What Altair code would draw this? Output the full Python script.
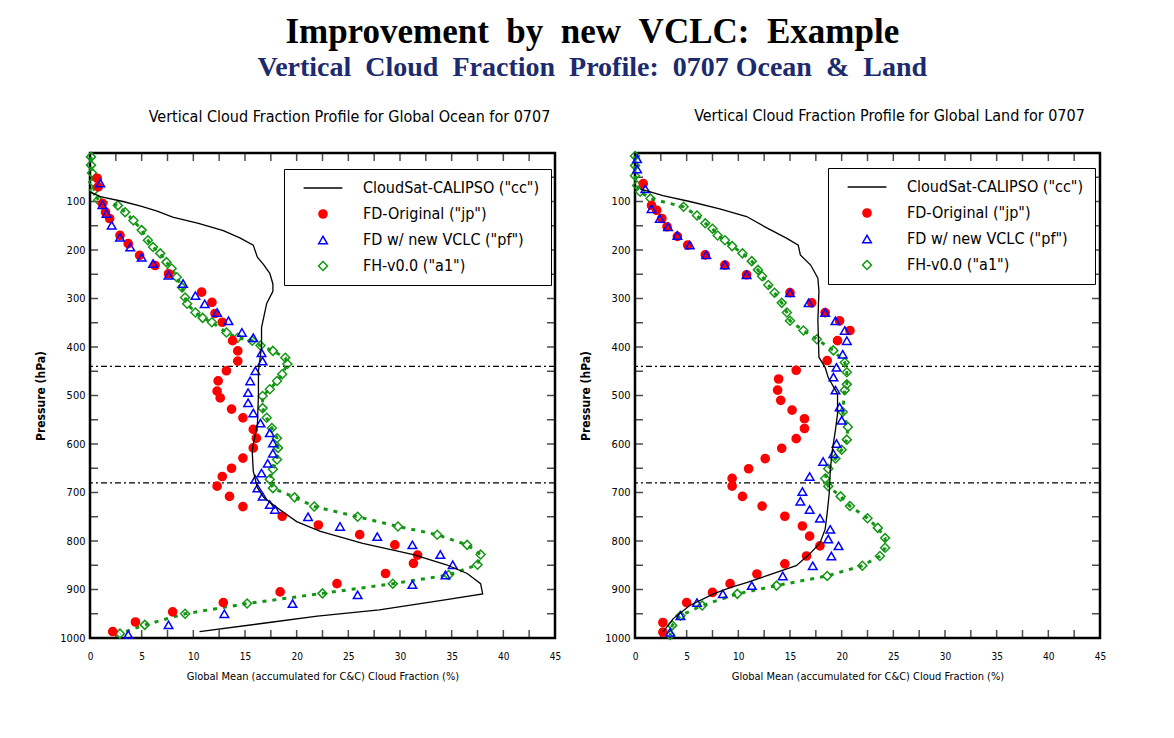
import altair as alt
import pandas as pd

# ---------------- data ----------------
SERIES = ['CloudSat-CALIPSO ("cc")', 'FD-Original ("jp")', 'FD w/ new VCLC ("pf")', 'FH-v0.0 ("a1")']

# Ocean panel
ocean_cc_p = [80, 90, 100, 110, 120, 132, 145, 160, 175, 190, 215, 230, 248, 270, 285, 310, 340, 360, 400, 450, 500,
              560, 600, 615, 656, 690, 710, 725, 745, 760, 780, 805, 828, 849, 867, 888, 909, 921, 942, 955, 967, 987]
ocean_cc_v = [0, 1, 3.2, 5, 6.5, 8, 10.5, 12.9, 14.5, 15.8, 16.2, 16.8, 17.4, 17.7, 17.7, 17.1, 16.8, 16.6, 16.6, 16.3, 16.3,
              16.2, 15.8, 15.7, 15.8, 16.2, 16.8, 17.7, 19.0, 20.0, 22.3, 26.4, 31.3, 34.5, 36.5, 37.8, 38.0, 34.5, 28.0, 22.0, 17.7, 10.6]

ocean_jp_p = [52, 70, 104, 122, 135, 170, 187, 211, 232, 249, 287, 308, 331, 349, 387, 408, 429, 449, 470, 491, 505, 528,
              546, 570, 588, 608, 629, 650, 667, 687, 708, 729, 749, 767, 787, 808, 829, 846, 867, 888, 905, 927, 946, 967, 987]
ocean_jp_v = [0.7, 0.8, 1.2, 1.5, 1.9, 2.9, 3.7, 4.8, 6.3, 7.6, 10.8, 11.8, 12.1, 12.8, 13.8, 14.3, 14.3, 13.2, 12.4, 12.3, 12.6, 13.7,
              14.8, 15.8, 16.1, 15.8, 14.8, 13.7, 12.8, 12.3, 13.5, 14.8, 18.6, 22.1, 26.1, 29.5, 31.7, 31.3, 28.6, 23.9, 18.4, 12.9, 8.0, 4.4, 2.2]

ocean_pf_p = [62, 107, 125, 149, 174, 194, 215, 228, 252, 269, 294, 311, 329, 346, 370, 381, 412, 429, 449, 470, 494, 515, 536,
              557, 577, 598, 619, 640, 660, 673, 691, 708, 725, 735, 750, 770, 791, 808, 828, 849, 870, 890, 911, 929, 950, 973, 993]
ocean_pf_v = [1.0, 1.2, 1.6, 2.1, 2.9, 3.9, 5.0, 6.1, 7.6, 9.0, 10.2, 11.1, 12.3, 13.4, 14.7, 15.8, 16.6, 16.7, 16.0, 15.5, 15.3, 15.3, 15.8,
              16.5, 17.4, 17.7, 17.7, 17.2, 16.6, 16.0, 16.2, 16.7, 17.4, 17.9, 21.1, 24.2, 27.8, 31.2, 33.9, 35.1, 34.4, 31.2, 25.9, 19.6, 13.0, 7.6, 3.7]

ocean_a1_p = [8, 25, 41, 60, 77, 97, 108, 122, 139, 159, 180, 194, 207, 225, 238, 256, 277, 298, 311, 329, 340, 349, 370, 381, 387,
              397, 408, 422, 435, 456, 470, 487, 501, 526, 546, 567, 588, 608, 632, 652, 673, 691, 710, 729, 750, 770, 787, 808, 828,
              849, 870, 888, 908, 929, 950, 973, 991]
ocean_a1_v = [0.1, 0.1, 0.2, 0.3, 0.4, 0.8, 2.7, 3.4, 4.2, 5.0, 5.6, 6.1, 6.8, 7.4, 7.9, 8.4, 8.9, 9.2, 9.4, 10.2, 10.9, 11.8, 13.2, 14.3, 15.7,
              16.5, 17.7, 18.9, 19.1, 18.6, 18.1, 17.4, 16.7, 16.7, 17.1, 17.6, 18.1, 18.2, 18.1, 17.7, 17.4, 17.7, 19.8, 21.7, 25.9, 29.8, 33.6, 36.5, 37.8,
              37.5, 34.7, 29.3, 22.5, 15.2, 9.2, 5.3, 2.9]

# Land panel
land_cc_p = [74, 88, 100, 115, 131, 155, 176, 190, 210, 231, 258, 285, 346, 421, 442, 463, 497, 538, 571, 612, 653, 701, 742,
             776, 804, 827, 851, 872, 886, 896, 909, 933, 960, 988]
land_cc_v = [0.5, 2.7, 5.3, 8.2, 10.8, 12.8, 14.7, 15.8, 16.0, 17.0, 17.7, 17.8, 17.7, 17.8, 18.4, 18.7, 19.6, 19.6, 19.4, 19.1, 18.9, 18.8, 18.6,
             18.4, 17.9, 16.9, 15.6, 12.7, 10.8, 9.2, 7.6, 5.3, 3.7, 2.7]

land_jp_p = [63, 108, 118, 135, 152, 172, 190, 210, 231, 251, 288, 309, 329, 346, 366, 387, 428, 448, 466, 489, 510, 530, 548,
             568, 589, 609, 630, 651, 671, 687, 708, 728, 749, 769, 790, 810, 831, 847, 868, 888, 906, 927, 968, 988]
land_jp_v = [0.8, 1.6, 2.1, 2.6, 3.1, 4.1, 5.1, 6.8, 8.7, 10.8, 15.0, 17.1, 18.4, 19.8, 20.8, 19.6, 18.6, 15.6, 13.9, 13.8, 14.1, 15.2, 16.4,
             16.4, 15.6, 14.2, 12.6, 11.0, 9.4, 9.4, 10.4, 12.3, 14.5, 16.2, 16.9, 17.9, 16.6, 14.5, 11.8, 9.2, 7.5, 5.0, 2.7, 2.7]

land_pf_p = [12, 33, 74, 115, 135, 152, 170, 190, 210, 231, 251, 288, 309, 329, 346, 366, 387, 415, 442, 462, 489, 524, 551,
             599, 620, 636, 667, 698, 718, 735, 753, 776, 796, 810, 831, 851, 872, 892, 909, 927, 954, 988]
land_pf_v = [0.2, 0.2, 1.0, 1.6, 2.4, 3.2, 4.1, 5.3, 6.9, 8.7, 10.8, 15.0, 16.8, 18.4, 19.4, 20.3, 20.5, 20.1, 19.5, 19.2, 19.4, 19.8, 20.0,
             19.5, 19.2, 18.2, 16.9, 16.2, 16.0, 16.9, 17.9, 18.9, 18.7, 19.7, 19.0, 17.2, 14.3, 11.3, 8.5, 6.0, 4.4, 3.4]

land_a1_p = [6, 26, 47, 67, 80, 94, 111, 129, 145, 156, 170, 180, 192, 207, 223, 241, 254, 272, 288, 309, 329, 346, 366, 384,
             407, 432, 452, 477, 489, 534, 565, 591, 612, 630, 651, 671, 687, 708, 728, 753, 773, 794, 814, 831, 851, 872, 892,
             909, 933, 954, 974, 994]
land_a1_v = [0.0, 0.0, 0.0, 0.2, 0.5, 1.5, 4.7, 6.0, 6.8, 7.5, 8.0, 8.7, 9.4, 10.4, 11.3, 11.9, 12.3, 12.9, 13.5, 14.2, 14.7, 15.0, 16.3, 17.6,
             19.2, 20.3, 20.5, 20.5, 20.3, 20.1, 20.6, 20.5, 20.0, 19.4, 18.7, 18.4, 18.7, 19.9, 20.8, 22.5, 23.5, 24.2, 24.2, 23.7, 22.0, 18.6, 13.7,
             9.9, 6.5, 4.4, 3.6, 3.4]

# reference levels (dotted horizontal lines), tick labels and tick positions
level_lines = [440, 680]
x_labels = [0, 5, 10, 15, 20, 25, 30, 35, 40, 45]
y_labels = [100, 200, 300, 400, 500, 600, 700, 800, 900, 1000]
x_ticks = [2.5, 5, 7.5, 10, 12.5, 15, 17.5, 20, 22.5, 25, 27.5, 30, 32.5, 35, 37.5, 40, 42.5]
y_ticks = [50, 100, 150, 200, 250, 300, 350, 400, 450, 500, 550, 600, 650, 700, 750, 800, 850, 900, 950]

# ---------------- styling ----------------
RED, BLUE, GREEN = "#ff0000", "#0000ff", "#149614"
NARROW = "Liberation Sans Narrow, Arial Narrow, DejaVu Sans Condensed, Liberation Sans, sans-serif"
SERIF = "Liberation Serif, Times New Roman, serif"
W, H = 465, 485
NB = "\u00a0"


def panel(cc_p, cc_v, jp_p, jp_v, pf_p, pf_v, a1_p, a1_v, title, lx, ly, tdx):
    xenc = alt.X("v:Q", scale=alt.Scale(domain=[0, 45], nice=False, zero=False),
                 axis=alt.Axis(values=x_labels, title="Global Mean (accumulated for C&C) Cloud Fraction (%)",
                               ticks=False, domain=False, grid=False, labelFlush=False, labelOverlap=False,
                               labelFont=NARROW, labelFontSize=10, labelPadding=13, labelColor="black",
                               titleFont=NARROW, titleFontSize=11, titleFontWeight="normal", titlePadding=9,
                               titleColor="black", format="d"))
    yenc = alt.Y("p:Q", scale=alt.Scale(domain=[0, 1000], reverse=True, nice=False, zero=False),
                 axis=alt.Axis(values=y_labels, title="Pressure (hPa)", ticks=False, domain=False, grid=False,
                               labelFlush=False, labelOverlap=False, labelFont=NARROW, labelFontSize=11,
                               labelPadding=5, labelColor="black", titleFont=NARROW, titleFontSize=12,
                               titleFontWeight="bold", titlePadding=12, titleColor="black", format="d"))

    cc = pd.DataFrame({"p": cc_p, "v": cc_v})
    a1 = pd.DataFrame({"p": a1_p, "v": a1_v})
    pts = pd.concat([
        pd.DataFrame({"p": a1_p, "v": a1_v, "s": SERIES[3]}),
        pd.DataFrame({"p": jp_p, "v": jp_v, "s": SERIES[1]}),
        pd.DataFrame({"p": pf_p, "v": pf_v, "s": SERIES[2]}),
    ], ignore_index=True)

    leg = alt.Legend(title=None, orient="none", legendX=lx, legendY=ly, padding=11,
                     strokeColor="black", fillColor="white", labelFont=NARROW, labelFontSize=16,
                     labelColor="black", labelLimit=400, rowPadding=10, symbolOffset=20, labelOffset=32,
                     symbolStrokeWidth=1.5)

    xt = pd.DataFrame({"v": x_ticks})
    yt = pd.DataFrame({"p": y_ticks})
    ticks = [
        alt.Chart(xt).mark_tick(color="black", thickness=1.5, size=8).encode(x=xenc, y=alt.value(H - 4)),
        alt.Chart(xt).mark_tick(color="black", thickness=1.5, size=8).encode(x=xenc, y=alt.value(4)),
        alt.Chart(yt).mark_tick(color="black", thickness=1.5, size=8).encode(y=yenc, x=alt.value(4)),
        alt.Chart(yt).mark_tick(color="black", thickness=1.5, size=8).encode(y=yenc, x=alt.value(W - 4)),
    ]
    rules = alt.Chart(pd.DataFrame({"p": level_lines})).mark_rule(
        color="black", strokeWidth=1.2, strokeDash=[6, 3, 2, 3]).encode(y=yenc)
    a1_line = alt.Chart(a1).mark_line(color=GREEN, strokeWidth=3, strokeDash=[4, 6]).encode(
        x=xenc, y=yenc, order=alt.Order("p:Q"))
    points = alt.Chart(pts).mark_point(opacity=1, strokeWidth=1.5).encode(
        x=xenc, y=yenc,
        stroke=alt.Stroke("s:N", scale=alt.Scale(domain=SERIES, range=["black", RED, BLUE, GREEN]), legend=leg),
        fill=alt.Fill("s:N", scale=alt.Scale(domain=SERIES, range=["transparent", RED, "transparent", "transparent"]), legend=leg),
        shape=alt.Shape("s:N", scale=alt.Scale(domain=SERIES, range=["M-5,0H5", "circle", "triangle-up", "diamond"]), legend=leg),
        size=alt.Size("s:N", scale=alt.Scale(domain=SERIES, range=[60, 80, 110, 160]), legend=leg),
    )
    cc_line = alt.Chart(cc).mark_line(color="black", strokeWidth=1.3).encode(
        x=xenc, y=yenc, order=alt.Order("p:Q"))

    return alt.layer(*ticks, rules, a1_line, points, cc_line).properties(
        width=W, height=H,
        title=alt.TitleParams(title, font=NARROW, fontSize=16, fontWeight="normal", color="black",
                              anchor="middle", offset=24, dx=tdx),
    )


left = panel(ocean_cc_p, ocean_cc_v, ocean_jp_p, ocean_jp_v, ocean_pf_p, ocean_pf_v, ocean_a1_p, ocean_a1_v,
             "Vertical Cloud Fraction Profile for Global Ocean for 0707", 194, 16, 27)
right = panel(land_cc_p, land_cc_v, land_jp_p, land_jp_v, land_pf_p, land_pf_v, land_a1_p, land_a1_v,
              "Vertical Cloud Fraction Profile for Global Land for 0707", 193, 15, 22)

chart = alt.hconcat(left, right, spacing=16).resolve_scale(
    stroke="independent", fill="independent", shape="independent", size="independent"
).resolve_legend(
    stroke="independent", fill="independent", shape="independent", size="independent"
).properties(
    title=alt.TitleParams(
        "Improvement" + NB * 2 + "by" + NB * 2 + "new" + NB * 2 + "VCLC:" + NB * 2 + "Example",
        subtitle="Vertical" + NB * 2 + "Cloud" + NB * 2 + "Fraction" + NB * 2 + "Profile:" + NB * 2 + "0707 Ocean" + NB * 2 + "&" + NB * 2 + "Land",
        font=SERIF, fontSize=35, fontWeight="bold", color="black",
        subtitleFont=SERIF, subtitleFontSize=28, subtitleFontWeight="bold", subtitleColor="#1c2a6e",
        subtitlePadding=4, anchor="middle", offset=25, dx=22,
    ),
    padding={"left": 25, "top": 7, "right": 10, "bottom": 10},
    background="white",
).configure_view(stroke="black", strokeWidth=2.5)

chart.save("out.html", embed_options={"renderer": "svg", "actions": False})
